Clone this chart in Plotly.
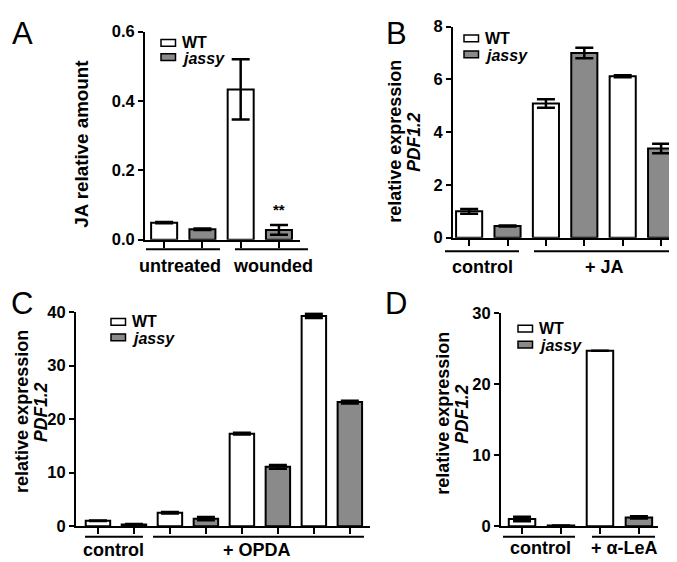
import plotly.graph_objects as go

W, H = 677, 562
FONT = "Liberation Sans"
GRAY = "#8a8a8a"

# ---------------- data ----------------
# Panel A: JA relative amount
a_groups = ["untreated", "wounded"]
a_wt = [0.049, 0.433]
a_wt_err = [0.002, 0.087]
a_jassy = [0.030, 0.028]
a_jassy_err = [0.002, 0.014]

# Panel B: PDF1.2 relative expression, JA
b_groups = ["control", "+ JA"]
b_wt = [1.0, 5.09, 6.12]
b_wt_err = [0.09, 0.16, 0.04]
b_jassy = [0.44, 7.0, 3.38]
b_jassy_err = [0.02, 0.2, 0.18]

# Panel C: PDF1.2 relative expression, OPDA
c_groups = ["control", "+ OPDA"]
c_wt = [1.0, 2.5, 17.3, 39.3]
c_wt_err = [0.05, 0.15, 0.15, 0.4]
c_jassy = [0.3, 1.4, 11.1, 23.2]
c_jassy_err = [0.1, 0.3, 0.35, 0.25]

# Panel D: PDF1.2 relative expression, alpha-LeA
d_groups = ["control", "+ α-LeA"]
d_wt = [1.0, 24.7]
d_wt_err = [0.32, 0.0]
d_jassy = [0.08, 1.23]
d_jassy_err = [0.02, 0.15]


def px(x):
    return x / W


def py(y):
    return 1 - y / H


fig = go.Figure()

panels = [
    # suffix, wt, wt_err, jassy, jassy_err, xdomain px, ydomain px, xrange, yrange, dtick, fmt
    ("", a_wt, a_wt_err, a_jassy, a_jassy_err, (137, 292), (15, 230), (-0.5, 3.55), (0, 0.6), 0.2, ".1f"),
    ("2", b_wt, b_wt_err, b_jassy, b_jassy_err, (445, 670), (10, 228), (-0.42, 5.44), (0, 8), 2, "d"),
    ("3", c_wt, c_wt_err, c_jassy, c_jassy_err, (68, 362), (305, 526), (-0.61, 7.56), (0, 40), 10, "d"),
    ("4", d_wt, d_wt_err, d_jassy, d_jassy_err, (493, 650), (306, 526), (-0.54, 3.49), (0, 30), 10, "d"),
]

layout = {}
for (sfx, wt, wte, ja, jae, xd, yd, xr, yr, dt, fmt) in panels:
    n = len(wt)
    pos_wt = [2 * i for i in range(n)]
    pos_ja = [2 * i + 1 for i in range(n)]
    xa = "x" + sfx
    ya = "y" + sfx
    for pos, vals, errs, col, name in [(pos_wt, wt, wte, "white", "WT"), (pos_ja, ja, jae, GRAY, "jassy")]:
        fig.add_trace(go.Bar(
            x=pos, y=vals, width=0.68, name=name, showlegend=False,
            marker=dict(color=col, line=dict(color="black", width=2)),
            error_y=dict(type="data", array=errs, color="black", thickness=2.5, width=9, visible=True),
            xaxis=xa, yaxis=ya,
        ))
    layout["xaxis" + sfx] = dict(
        domain=[px(xd[0]), px(xd[1])], range=list(xr), anchor=ya,
        showline=True, linecolor="black", linewidth=2,
        ticks="outside", ticklen=6, tickwidth=2, tickcolor="black",
        tickvals=list(range(2 * n)), showticklabels=False, showgrid=False, zeroline=False,
        fixedrange=True,
    )
    layout["yaxis" + sfx] = dict(
        domain=[py(yd[1]), py(yd[0])], range=list(yr), anchor=xa,
        showline=True, linecolor="black", linewidth=2,
        ticks="outside", ticklen=5, tickwidth=2, tickcolor="black",
        dtick=dt, tick0=0, tickformat=fmt, showgrid=False, zeroline=False,
        tickfont=dict(family=FONT, size=16.5, color="black", weight="bold"),
        fixedrange=True,
    )

shapes = []
annotations = []


def hline(x0, x1, y):
    shapes.append(dict(type="line", xref="paper", yref="paper",
                       x0=px(x0), x1=px(x1), y0=py(y), y1=py(y),
                       line=dict(color="black", width=2)))


def text(x, y, s, size=18, angle=0, xanchor="center"):
    annotations.append(dict(xref="paper", yref="paper", x=px(x), y=py(y), text=s,
                            showarrow=False, xanchor=xanchor, yanchor="middle", textangle=angle,
                            font=dict(family=FONT, size=size, color="black")))


def legend(x, y_wt, y_ja):
    for yy, col in [(y_wt, "white"), (y_ja, GRAY)]:
        shapes.append(dict(type="rect", xref="paper", yref="paper",
                           x0=px(x), x1=px(x + 14.5), y0=py(yy + 3.5), y1=py(yy - 3.5),
                           fillcolor=col, line=dict(color="black", width=1.5)))
    text(x + 19, y_wt, "<b>WT</b>", size=16, xanchor="left")
    text(x + 19, y_ja + 1, "<b><i>jassy</i></b>", size=16, xanchor="left")


def ytitle(x1, x2, y):
    text(x1, y, "<b>relative expression</b>", size=18, angle=-90)
    text(x2, y, "<b><i>PDF1.2</i></b>", size=17.5, angle=-90)


# Panel A decorations
hline(138, 212, 240)
hline(227, 300, 240)
text(172, 257, "<b>untreated</b>")
text(265, 257, "<b>wounded</b>")
text(74, 131, "<b>JA relative amount</b>", size=18.8, angle=-90)
text(14, 17, "A", size=31)
legend(153, 26.7, 41.5)
annotations.append(dict(xref="x", yref="y", x=3, y=a_jassy[1] + a_jassy_err[1], text="<b>**</b>",
                        showarrow=False, yanchor="bottom", yshift=5,
                        font=dict(family=FONT, size=15, color="black")))

# Panel B decorations
hline(437, 511, 242)
hline(526, 670, 242)
text(474, 258, "<b>control</b>")
text(596, 258, "<b>+ JA</b>")
ytitle(387, 406, 129)
text(388, 17, "B", size=31)
legend(456, 22, 38.5)

# Panel C decorations
hline(77, 135, 537)
hline(145, 356, 537)
text(105, 551, "<b>control</b>")
text(249, 551, "<b>+ OPDA</b>")
ytitle(14, 33, 408)
text(14, 296, "C", size=31)
legend(103, 315, 331)

# Panel D decorations
hline(495, 567, 537)
hline(584, 647, 537)
text(532, 549, "<b>control</b>")
text(616, 549, "<b>+ α-LeA</b>")
ytitle(435, 454, 410)
text(388, 296, "D", size=31)
legend(510, 322, 338.5)

fig.update_layout(
    width=W, height=H, margin=dict(l=0, r=0, t=0, b=0),
    paper_bgcolor="white", plot_bgcolor="white",
    barmode="overlay", showlegend=False,
    shapes=shapes, annotations=annotations,
    font=dict(family=FONT, color="black"),
    **layout,
)

fig.write_html("out.html")
